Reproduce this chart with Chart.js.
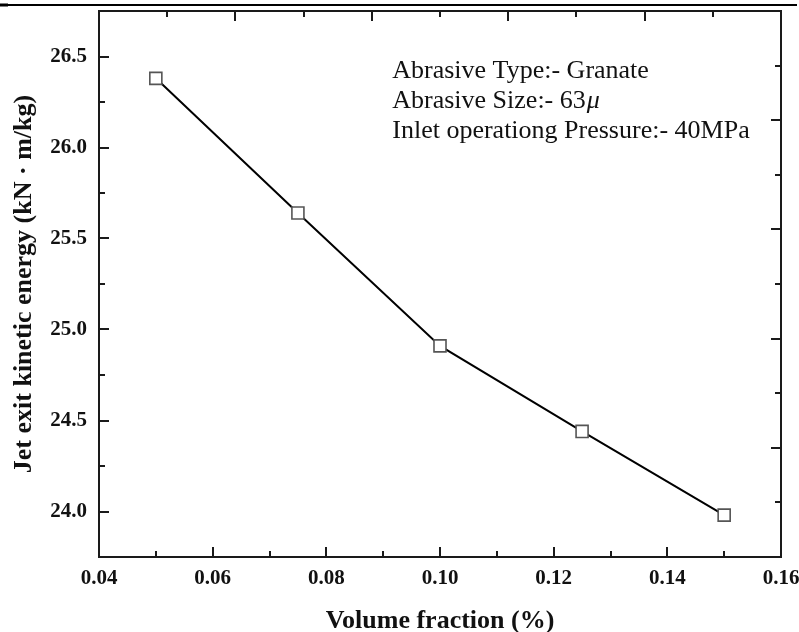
<!DOCTYPE html>
<html>
<head>
<meta charset="utf-8">
<script src="https://cdn.jsdelivr.net/npm/chart.js@4.4.1/dist/chart.umd.min.js"></script>
<style>
  html, body { margin: 0; padding: 0; background: #fff; }
  #wrap { width: 799px; height: 632px; position: relative; }
</style>
</head>
<body>
<div id="wrap"><canvas id="c" width="799" height="632"></canvas></div>
<script>
// ---- data ----
const volumeFraction = [0.05, 0.075, 0.10, 0.125, 0.15];
const kineticEnergy = [26.38, 25.64, 24.91, 24.44, 23.98];
const xTickValues = [0.04, 0.06, 0.08, 0.10, 0.12, 0.14, 0.16];
const yTickValues = [24.0, 24.5, 25.0, 25.5, 26.0, 26.5];
const topTickValues = [0, 0.2, 0.4, 0.6, 0.8, 1.0];
const rightTickValues = [0, 0.2, 0.4, 0.6, 0.8, 1.0];
const annotationLines = ["Abrasive Type:- Granate", "Abrasive Size:- 63", "Inlet operationg Pressure:- 40MPa"];
const annotationAnchor = { x: 0.0916, y: 26.38 };

const SERIF = '"Liberation Serif", "Times New Roman", Times, serif';

function zeroPad(s) { s.paddingTop = 0; s.paddingBottom = 0; s.paddingLeft = 0; s.paddingRight = 0; }

const framePlugin = {
  id: 'frame',
  afterDraw(chart) {
    const ctx = chart.ctx;
    const a = chart.chartArea;
    const sx = chart.scales.x, sy = chart.scales.y, sx2 = chart.scales.x2, sy2 = chart.scales.y2;
    ctx.save();
    // top rule of page
    ctx.strokeStyle = '#000';
    ctx.lineWidth = 2;
    ctx.beginPath(); ctx.moveTo(0, 5); ctx.lineTo(797, 5); ctx.stroke();
    ctx.fillStyle = '#000';
    ctx.fillRect(0, 3.5, 8, 3);

    const major = 10, minor = 6;
    ctx.strokeStyle = '#1a1a1a';
    ctx.lineWidth = 2;
    function mids(vals) { const m = []; for (let i = 0; i < vals.length - 1; i++) m.push((vals[i] + vals[i + 1]) / 2); return m; }
    function tickSet(scale, vals, len, side) {
      vals.forEach(v => {
        const p = Math.round(scale.getPixelForValue(v));
        if (side === 'bottom' && p > a.left + 1 && p < a.right - 1) { ctx.beginPath(); ctx.moveTo(p, a.bottom); ctx.lineTo(p, a.bottom - len); ctx.stroke(); }
        if (side === 'top' && p > a.left + 1 && p < a.right - 1) { ctx.beginPath(); ctx.moveTo(p, a.top); ctx.lineTo(p, a.top + len); ctx.stroke(); }
        if (side === 'left' && p > a.top + 1 && p < a.bottom - 1) { ctx.beginPath(); ctx.moveTo(a.left, p); ctx.lineTo(a.left + len, p); ctx.stroke(); }
        if (side === 'right' && p > a.top + 1 && p < a.bottom - 1) { ctx.beginPath(); ctx.moveTo(a.right, p); ctx.lineTo(a.right - len, p); ctx.stroke(); }
      });
    }
    tickSet(sx, xTickValues, major, 'bottom');
    tickSet(sx, mids(xTickValues), minor, 'bottom');
    tickSet(sy, yTickValues, major, 'left');
    tickSet(sy, mids([23.5].concat(yTickValues).concat([27.0])), minor, 'left');
    tickSet(sx2, topTickValues, major, 'top');
    tickSet(sx2, mids(topTickValues), minor, 'top');
    tickSet(sy2, rightTickValues, major, 'right');
    tickSet(sy2, mids(rightTickValues), minor, 'right');

    // frame
    ctx.strokeStyle = '#1a1a1a';
    ctx.lineWidth = 2;
    ctx.strokeRect(a.left, a.top, a.right - a.left, a.bottom - a.top);

    // annotation text
    const ax = sx.getPixelForValue(annotationAnchor.x);
    const ay = sy.getPixelForValue(annotationAnchor.y);
    ctx.fillStyle = '#111';
    ctx.textBaseline = 'alphabetic';
    ctx.textAlign = 'left';
    const lh = 30;
    annotationLines.forEach((t, i) => {
      ctx.font = '26px ' + SERIF;
      ctx.fillText(t, ax, ay + i * lh);
      if (i === 1) {
        const w = ctx.measureText(t).width;
        ctx.font = 'italic 26px ' + SERIF;
        ctx.fillText('\u03bc', ax + w + 1, ay + i * lh);
      }
    });
    ctx.restore();
  }
};

new Chart(document.getElementById('c'), {
  type: 'scatter',
  data: {
    datasets: [{
      data: volumeFraction.map((v, i) => ({ x: v, y: kineticEnergy[i] })),
      showLine: true,
      borderColor: '#000',
      borderWidth: 2,
      pointStyle: 'rect',
      pointRadius: 8.5,
      pointHoverRadius: 8.5,
      pointBackgroundColor: '#fff',
      pointBorderColor: '#555',
      pointBorderWidth: 1.6,
      tension: 0
    }]
  },
  options: {
    responsive: false,
    animation: false,
    events: [],
    layout: { padding: { top: 11, right: 18, left: 0, bottom: 0 } },
    plugins: { legend: { display: false }, tooltip: { enabled: false } },
    scales: {
      x: {
        type: 'linear', position: 'bottom', min: 0.04, max: 0.16,
        afterBuildTicks: s => { s.ticks = xTickValues.map(v => ({ value: v })); },
        afterFit: s => { s.height = 75; zeroPad(s); },
        grid: { display: false, drawTicks: false },
        border: { display: false },
        ticks: {
          padding: 9, color: '#111', autoSkip: false, maxRotation: 0,
          font: { family: SERIF, size: 21, weight: 'bold' },
          callback: v => Number(v).toFixed(2)
        },
        title: {
          display: true, text: 'Volume fraction (%)', color: '#111',
          font: { family: SERIF, size: 26, weight: 'bold', lineHeight: 0.8 },
          padding: { top: 0, bottom: 0 }
        }
      },
      y: {
        type: 'linear', position: 'left', min: 23.75, max: 26.75,
        afterBuildTicks: s => { s.ticks = yTickValues.map(v => ({ value: v })); },
        afterFit: s => { s.width = 99; zeroPad(s); },
        grid: { display: false, drawTicks: false },
        border: { display: false },
        ticks: {
          padding: 12, color: '#111', autoSkip: false,
          font: { family: SERIF, size: 21, weight: 'bold' },
          callback: v => Number(v).toFixed(1)
        },
        title: {
          display: true, text: 'Jet exit kinetic energy (kN \u00b7 m/kg)', color: '#111',
          font: { family: SERIF, size: 26, weight: 'bold', lineHeight: 1.0 },
          padding: { top: 11, bottom: 0 }
        }
      },
      x2: {
        type: 'linear', position: 'top', min: 0, max: 1,
        afterBuildTicks: s => { s.ticks = topTickValues.map(v => ({ value: v })); },
        afterFit: s => { s.height = 0; zeroPad(s); },
        grid: { display: false, drawTicks: false },
        border: { display: false },
        ticks: { display: false }
      },
      y2: {
        type: 'linear', position: 'right', min: 0, max: 1,
        afterBuildTicks: s => { s.ticks = rightTickValues.map(v => ({ value: v })); },
        afterFit: s => { s.width = 0; zeroPad(s); },
        grid: { display: false, drawTicks: false },
        border: { display: false },
        ticks: { display: false }
      }
    }
  },
  plugins: [framePlugin]
});
</script>
</body>
</html>
